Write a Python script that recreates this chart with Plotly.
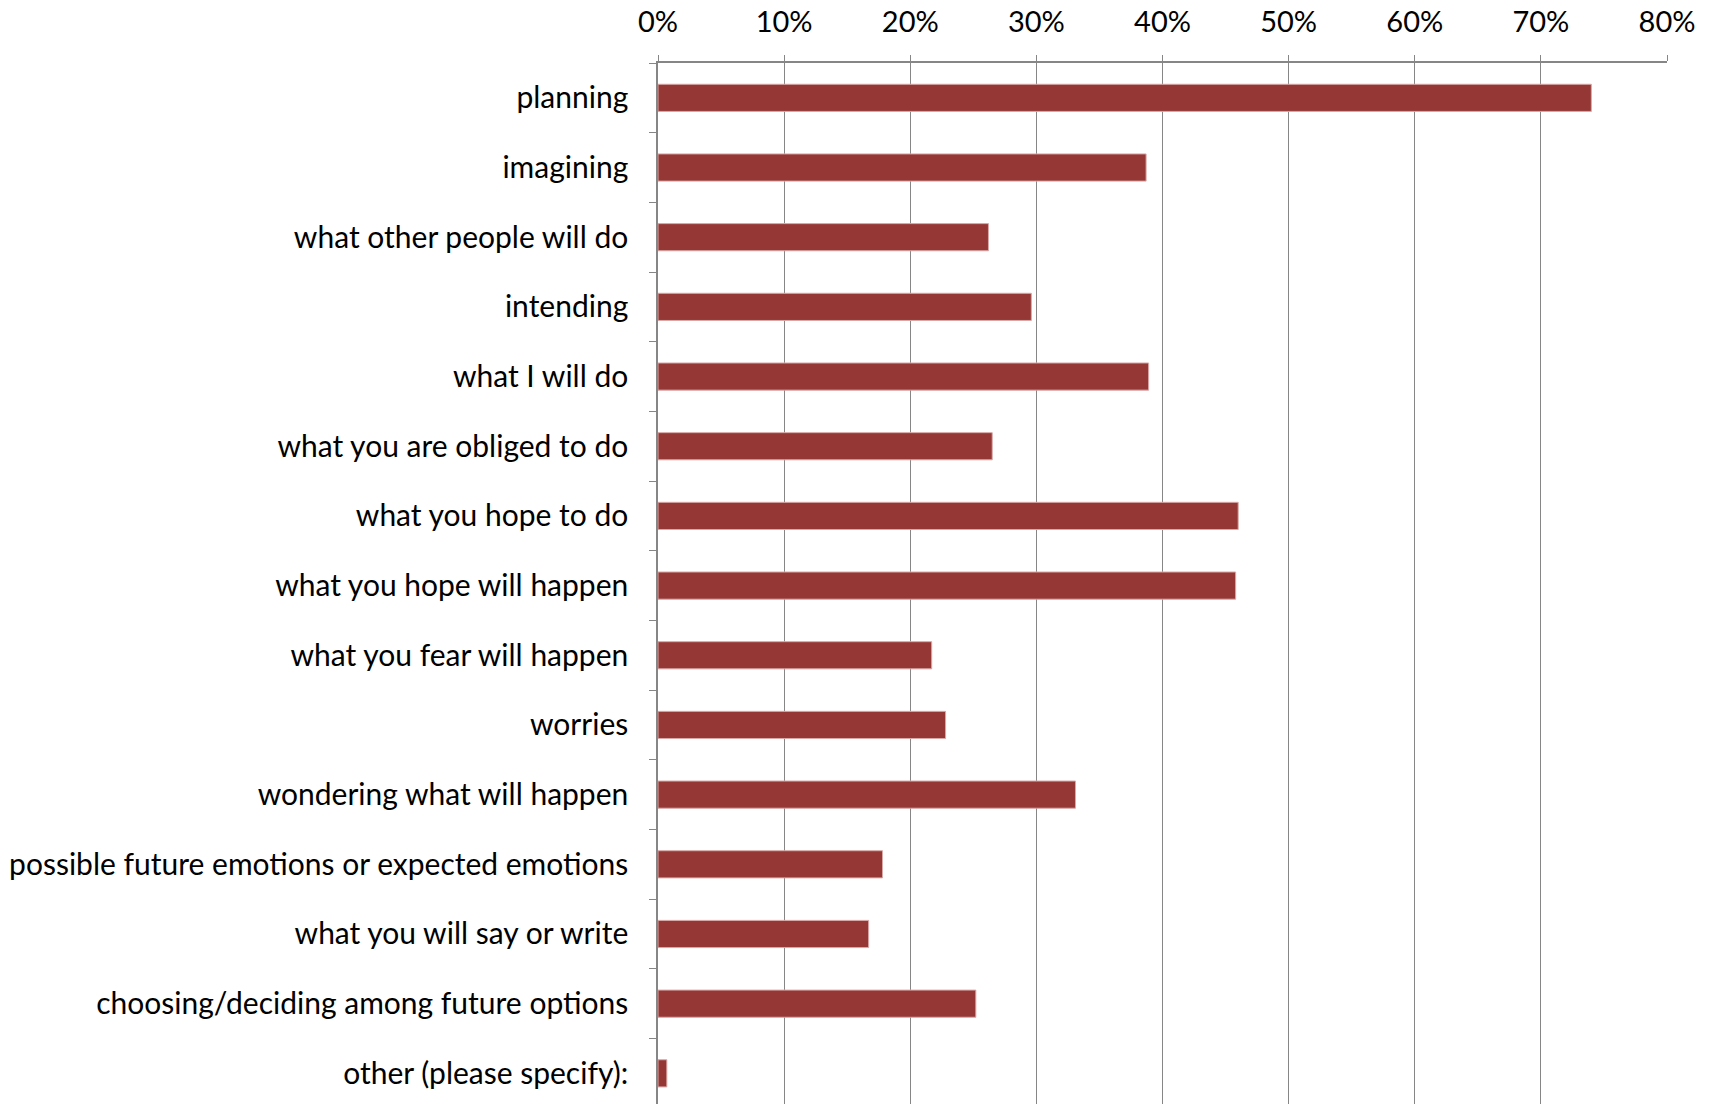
import plotly.graph_objects as go

# Survey responses: share of respondents per kind of future-oriented thinking
categories = [
    "planning",
    "imagining",
    "what other people will do",
    "intending",
    "what I will do",
    "what you are obliged to do",
    "what you hope to do",
    "what you hope will happen",
    "what you fear will happen",
    "worries",
    "wondering what will happen",
    "possible future emotions or expected emotions",
    "what you will say or write",
    "choosing/deciding among future options",
    "other (please specify):",
]
percentages = [74.0, 38.7, 26.2, 29.6, 38.9, 26.5, 46.0, 45.8, 21.7, 22.8,
               33.1, 17.8, 16.7, 25.2, 0.7]
x_ticks = [0, 10, 20, 30, 40, 50, 60, 70, 80]
x_tick_labels = [f"{t}%" for t in x_ticks]

BAR = "#953735"
GRID = "#868686"
FONT = "Lato"

fig = go.Figure(
    go.Bar(
        x=percentages,
        y=categories,
        orientation="h",
        marker=dict(color=BAR, line=dict(color="#d9a9a8", width=1)),
        width=0.39,
        hoverinfo="x+y",
    )
)

fig.update_layout(
    width=1713,
    height=1104,
    margin=dict(l=658, r=46, t=63, b=0),
    paper_bgcolor="white",
    plot_bgcolor="white",
    showlegend=False,
    font=dict(family=FONT, size=30, color="black"),
)

fig.update_xaxes(
    side="top",
    range=[0, 80],
    tickvals=x_ticks,
    ticktext=x_tick_labels,
    showgrid=True,
    gridcolor=GRID,
    gridwidth=1.4,
    zeroline=False,
    showline=True,
    linecolor=GRID,
    linewidth=1.5,
    ticks="outside",
    ticklen=6,
    tickcolor=GRID,
    ticklabelstandoff=12,
    tickfont=dict(family=FONT, size=29, color="black"),
)

fig.update_yaxes(
    categoryorder="array",
    categoryarray=categories,
    range=[14.44, -0.5],
    showgrid=False,
    zeroline=False,
    showline=True,
    linecolor=GRID,
    linewidth=1.5,
    ticks="outside",
    tickson="boundaries",
    ticklen=7,
    tickcolor=GRID,
    ticklabelstandoff=22,
    tickfont=dict(family=FONT, size=30, color="black"),
)

fig.write_html("out.html")
